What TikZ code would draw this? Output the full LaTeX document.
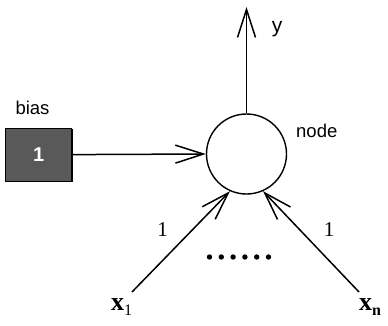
\documentclass[tikz,border=0pt]{standalone}
\usepackage{fontspec}
\setmainfont{Liberation Serif}
\setsansfont{Liberation Sans}
\usetikzlibrary{arrows.meta}
\begin{document}
\begin{tikzpicture}[x=1pt,y=-1pt,
  conn/.style={line width=1.5pt,-{Straight Barb[length=28pt,width=18pt,line width=1.5pt]}},
  lab/.style={font=\sffamily\fontsize{18.5}{18.5}\selectfont, inner sep=0pt},
  wlab/.style={font=\fontsize{21}{21}\selectfont, inner sep=0pt},
  inlab/.style={font=\bfseries\fontsize{26}{26}\selectfont, inner sep=0pt, anchor=base west},
  dot/.style={circle, fill, inner sep=0pt, minimum size=5.4pt},
]
\useasboundingbox (0,0) rectangle (388,325);
% neuron
\node[circle, draw, line width=1.4pt, minimum size=80pt, inner sep=0pt] (c) at (246.5,154) {};
\node[lab, anchor=west] (nl) at (296,131) {node};
% bias box
\fill (7,129) rectangle (73,182);
\node[draw, fill=black!65, line width=1.2pt, minimum width=66pt, minimum height=53pt, inner sep=0pt,
  anchor=north west, font=\sffamily\bfseries\fontsize{20}{20}\selectfont, text=white] (b) at (5,127.5) {1};
\node[lab] (bl) at (32.5,108) {bias};
\draw[conn] (b.east) -- (c.west);
% output
\coordinate (yt) at (246.5,7);
\draw[conn] (c.north) -- (yt);
\node[lab, font=\sffamily\fontsize{21}{21}\selectfont] (yl) at (277,29) {y};
% inputs
\coordinate (x1e) at (132,292);
\coordinate (xne) at (359,292);
\draw[conn] (x1e) -- (c.246);
\draw[conn] (xne) -- (c.294);
\node[inlab] (x1) at (111,310) {x\raisebox{-5pt}{\mdseries\fontsize{16}{16}\selectfont 1}};
\node[inlab] (xn) at (359,310) {x\raisebox{-5pt}{\fontsize{16}{16}\selectfont n}};
\node[wlab] (w1) at (162.5,230) {1};
\node[wlab] (wn) at (329,230) {1};
% dots
\foreach \i in {0,...,5} \node[dot] (d\i) at (209.5+11.8*\i,257) {};
\end{tikzpicture}
\end{document}
